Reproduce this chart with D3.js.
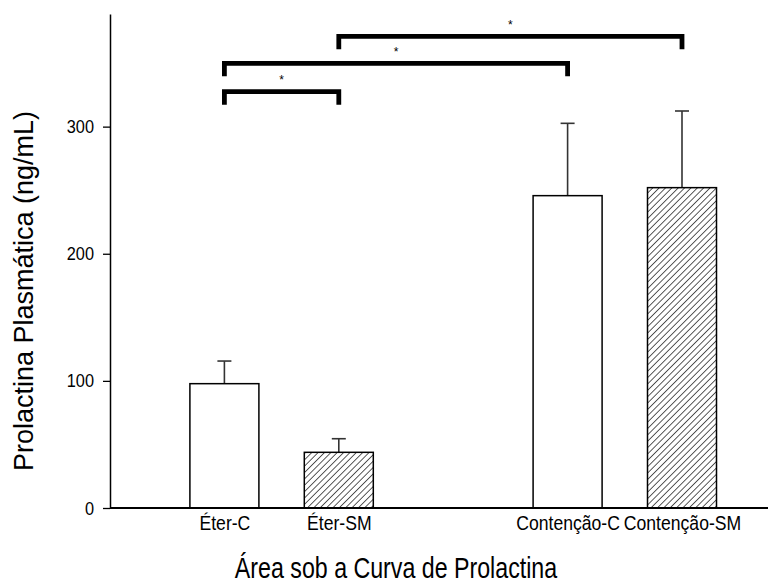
<!DOCTYPE html>
<html>
<head>
<meta charset="utf-8">
<script src="https://cdn.jsdelivr.net/npm/d3@7"></script>
<style>
  html, body { margin: 0; padding: 0; background: #fff; }
  svg text { font-family: Arial, "Liberation Sans", sans-serif; fill: #000; }
</style>
</head>
<body>
<svg id="chart" width="784" height="585"></svg>
<script>
// Prolactin area-under-curve per group (ng/mL), mean and standard error
const categories = ["Éter-C", "Éter-SM", "Contenção-C", "Contenção-SM"];
const means = [97.8, 43.8, 245.7, 252.0];
const errors = [17.8, 10.7, 56.9, 60.3];
const hatchedGroups = ["Éter-SM", "Contenção-SM"];
const yTicks = [0, 100, 200, 300];

// Significance brackets between pairs of groups
const pairFrom = ["Éter-C", "Éter-C", "Éter-SM"];
const pairTo = ["Éter-SM", "Contenção-C", "Contenção-SM"];
const pairLevel = [327.5, 349.8, 371.0];
const pairLabel = ["*", "*", "*"];

const svg = d3.select("#chart");
const plotLeft = 110, plotRight = 768, plotTop = 14, plotBottom = 508;
const narrow = 0.86; // condensed horizontal lettering

const y = d3.scaleLinear().domain([0, 388.6]).range([plotBottom, plotTop]);
// one empty slot before the first group and one between the two conditions
const slots = ["·0", categories[0], categories[1], "·1", categories[2], categories[3]];
const x = d3.scalePoint().domain(slots).range([plotLeft, 682]);
const barW = 69;

// hatch pattern for the SM groups
const defs = svg.append("defs");
defs.append("pattern")
  .attr("id", "hatch")
  .attr("patternUnits", "userSpaceOnUse")
  .attr("width", 4.5).attr("height", 4.5)
  .attr("patternTransform", "rotate(45)")
  .append("line")
  .attr("x1", 0).attr("y1", 0).attr("x2", 0).attr("y2", 4.5)
  .attr("stroke", "#000").attr("stroke-width", 1.3);

const rows = categories.map((c, i) => ({ cat: c, mean: means[i], err: errors[i] }));

// error bars (upper whisker only)
const eb = svg.append("g").attr("stroke", "#333").attr("stroke-width", 1.6);
eb.selectAll("line.stem").data(rows).join("line").attr("class", "stem")
  .attr("x1", d => x(d.cat)).attr("x2", d => x(d.cat))
  .attr("y1", d => y(d.mean)).attr("y2", d => y(d.mean + d.err));
eb.selectAll("line.cap").data(rows).join("line").attr("class", "cap")
  .attr("x1", d => x(d.cat) - 7).attr("x2", d => x(d.cat) + 7)
  .attr("y1", d => y(d.mean + d.err)).attr("y2", d => y(d.mean + d.err));

// bars
svg.append("g").selectAll("rect").data(rows).join("rect")
  .attr("x", d => x(d.cat) - barW / 2)
  .attr("width", barW)
  .attr("y", d => y(d.mean))
  .attr("height", d => y(0) - y(d.mean))
  .attr("fill", d => hatchedGroups.includes(d.cat) ? "url(#hatch)" : "#fff")
  .attr("stroke", "#000").attr("stroke-width", 1.5);

// y axis
const yAxis = svg.append("g")
  .attr("transform", `translate(${plotLeft},0)`)
  .call(d3.axisLeft(y).tickValues(yTicks).tickSize(7).tickSizeOuter(0).tickPadding(0));
yAxis.select(".domain").attr("stroke", "#000").attr("stroke-width", 1.5);
yAxis.selectAll(".tick line").attr("stroke", "#000").attr("stroke-width", 1.3);
yAxis.selectAll(".tick text")
  .attr("font-size", 19).attr("font-family", null)
  .attr("x", null)
  .attr("transform", `translate(-16,0) scale(${narrow},1)`);

// x axis (labels) and baseline
const xAxis = svg.append("g")
  .attr("transform", `translate(0,${plotBottom})`)
  .call(d3.axisBottom(x).tickValues(categories).tickSize(0).tickPadding(0));
xAxis.select(".domain").remove();
xAxis.selectAll(".tick text")
  .attr("font-size", 20).attr("font-family", null)
  .attr("y", 22).attr("dy", null)
  .attr("transform", "scale(0.88,1)");
svg.append("line")
  .attr("x1", plotLeft).attr("x2", plotRight)
  .attr("y1", plotBottom).attr("y2", plotBottom)
  .attr("stroke", "#000").attr("stroke-width", 2.2);

// significance brackets
const brackets = pairFrom.map((a, i) => ({ a, b: pairTo[i], level: pairLevel[i], label: pairLabel[i] }));
const drop = 13;
const bg = svg.append("g");
bg.selectAll("path").data(brackets).join("path")
  .attr("d", d => {
    const yy = y(d.level);
    return `M${x(d.a)},${yy + drop}V${yy}H${x(d.b)}V${yy + drop}`;
  })
  .attr("fill", "none").attr("stroke", "#000").attr("stroke-width", 4.8)
  .attr("stroke-linejoin", "miter");
bg.selectAll("text").data(brackets).join("text")
  .attr("x", d => (x(d.a) + x(d.b)) / 2)
  .attr("y", d => y(d.level) - 7.5)
  .attr("text-anchor", "middle")
  .attr("font-size", 12)
  .text(d => d.label);

// axis titles
svg.append("text")
  .attr("transform", "translate(33,291) rotate(-90)")
  .attr("text-anchor", "middle")
  .attr("font-size", 27)
  .text("Prolactina Plasmática (ng/mL)");
svg.append("text")
  .attr("transform", "translate(396,578) scale(0.8,1)")
  .attr("text-anchor", "middle")
  .attr("font-size", 29)
  .text("Área sob a Curva de Prolactina");
</script>
</body>
</html>
